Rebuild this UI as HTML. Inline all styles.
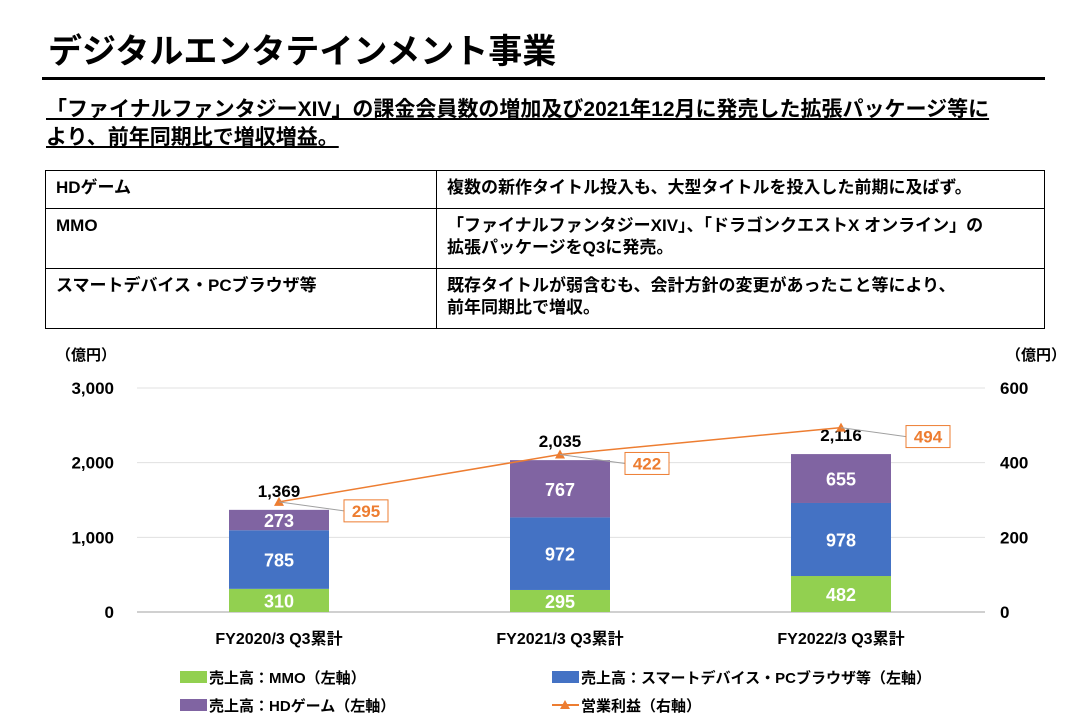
<!DOCTYPE html>
<html><head><meta charset="utf-8"><style>
body{margin:0;width:1089px;height:726px;background:#fff;font-family:"Liberation Sans","Noto Sans CJK JP",sans-serif;overflow:hidden;position:relative;color:#000}
.t{position:absolute;font-weight:bold;white-space:nowrap}
table{position:absolute;left:45px;top:170px;width:1000px;border-collapse:collapse}
td{border:1.5px solid #000;font-weight:bold;font-size:17px;padding:6px 10px;vertical-align:top;line-height:22px}
</style></head><body>
<div class="t" style="left:48px;top:24px;font-size:34px">デジタルエンタテインメント事業</div>
<div style="position:absolute;left:42px;top:77px;width:1003px;height:3px;background:#000"></div>
<div class="t" style="left:46px;top:96px;font-size:21px;line-height:28px;text-decoration:underline">「ファイナルファンタジーXIV」の課金会員数の増加及び2021年12月に発売した拡張パッケージ等に<br>より、前年同期比で増収増益。</div>
<table>
<tr style="height:38px"><td style="width:370px">HDゲーム</td><td>複数の新作タイトル投入も、大型タイトルを投入した前期に及ばず。</td></tr>
<tr style="height:60px"><td>MMO</td><td>「ファイナルファンタジーXIV」、「ドラゴンクエストX オンライン」の<br>拡張パッケージをQ3に発売。</td></tr>
<tr style="height:60px"><td>スマートデバイス・PCブラウザ等</td><td>既存タイトルが弱含むも、会計方針の変更があったこと等により、<br>前年同期比で増収。</td></tr>
</table>
<svg id="chart" width="1089" height="726" style="position:absolute;left:0;top:0" font-family="Liberation Sans, Noto Sans CJK JP, sans-serif" font-weight="bold"></svg>
<script>
const categories=["FY2020/3 Q3累計","FY2021/3 Q3累計","FY2022/3 Q3累計"];
const mmo=[310,295,482];
const smart=[785,972,978];
const hd=[273,767,655];
const totals=[1369,2035,2116];
const profit=[295,422,494];
const leftTicks=[0,1000,2000,3000];
const rightTicks=[0,200,400,600];
const NS="http://www.w3.org/2000/svg",svg=document.getElementById('chart');
const y0=612,y1=388,yL=v=>y0-(v/3000)*(y0-y1),yR=v=>y0-(v/600)*(y0-y1);
const xC=i=>279+i*281,bw=100;
function mk(t,a,txt){const e=document.createElementNS(NS,t);for(const k in a)e.setAttribute(k,a[k]);if(txt!=null)e.textContent=txt;svg.appendChild(e);return e;}
leftTicks.forEach((v,i)=>{
 const g=mk('line',{x1:137,x2:985,y1:yL(v),y2:yL(v),stroke:i==0?'#d0d0d0':'#e0e0e0','stroke-width':i==0?2:1});
 
 
 const t=mk('text',{x:114,y:yL(v)+6,'text-anchor':'end','font-size':17},v.toLocaleString('en-US'));
 
 
});
rightTicks.forEach(v=>{
 const t=mk('text',{x:1000,y:yR(v)+6,'font-size':17},String(v));
 
 
});
let u=mk('text',{x:56,y:360,'font-size':15},'（億円）');
u=mk('text',{x:1006,y:360,'font-size':15},'（億円）');
const series=[[mmo,'#92d050','mmo'],[smart,'#4472c4','smart-device'],[hd,'#8064a2','hd-game']];
categories.forEach((c,i)=>{
 let base=0;
 series.forEach(([arr,col,nm])=>{
  const v=arr[i],top=yL(base+v),bot=yL(base);
  const r=mk('rect',{x:xC(i)-bw/2,y:top,width:bw,height:bot-top,fill:col});
  
  
  const t=mk('text',{x:xC(i),y:(top+bot)/2+7,'text-anchor':'middle','font-size':18,fill:'#fff'},String(v));
  
  
  base+=v;
 });
 const tt=mk('text',{x:xC(i),y:yL(totals[i])-13,'text-anchor':'middle','font-size':17},totals[i].toLocaleString('en-US'));
 
 
 const cl=mk('text',{x:xC(i),y:644,'text-anchor':'middle','font-size':16},c);
 
 
});
const pl=mk('polyline',{points:profit.map((v,i)=>xC(i)+','+yR(v)).join(' '),fill:'none',stroke:'#ed7d31','stroke-width':1.5});


profit.forEach((v,i)=>{
 const x=xC(i),y=yR(v);
 const m=mk('path',{d:`M${x} ${y-5}L${x+5} ${y+4}L${x-5} ${y+4}Z`,fill:'#ed7d31'});
 
 
 const lx=x+87,ly=y+9;
 mk('line',{x1:x,y1:y,x2:lx-22,y2:ly,stroke:'#a0a0a0','stroke-width':1});
 const b=mk('rect',{x:lx-22,y:ly-11,width:44,height:22,fill:'#fff',stroke:'#ed7d31','stroke-width':1});
 
 
 const t=mk('text',{x:lx,y:ly+6,'text-anchor':'middle','font-size':17,fill:'#ed7d31'},String(v));
 
 
});
const leg=[[180,677,'#92d050','売上高：MMO（左軸）'],[552,677,'#4472c4','売上高：スマートデバイス・PCブラウザ等（左軸）'],[180,705,'#8064a2','売上高：HDゲーム（左軸）']];
leg.forEach(([x,y,col,txt])=>{
 const s=mk('rect',{x:x,y:y-6,width:27,height:12,fill:col});
 
 
 const t=mk('text',{x:x+29,y:y+6,'font-size':15},txt);
 
 
});
mk('line',{x1:552,x2:579,y1:705,y2:705,stroke:'#ed7d31','stroke-width':2});
const lm=mk('path',{d:'M565 700L570 709L560 709Z',fill:'#ed7d31'});


const lt=mk('text',{x:581,y:711,'font-size':15},'営業利益（右軸）');


</script>
</body></html>
